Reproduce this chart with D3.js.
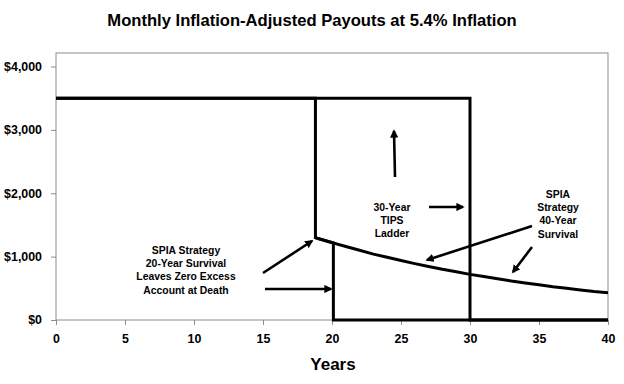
<!DOCTYPE html>
<html>
<head>
<meta charset="utf-8">
<script src="https://cdn.jsdelivr.net/npm/d3@7"></script>
<style>
  body { margin: 0; background: #fff; }
  svg text { font-family: "Liberation Sans", Arial, sans-serif; font-weight: bold; }
</style>
</head>
<body>
<svg id="chart"></svg>
<script>
// Data
const xTicks = [0, 5, 10, 15, 20, 25, 30, 35, 40];
const yTicks = [0, 1000, 2000, 3000, 4000];

// 30-year TIPS ladder
const tipsYears = [0, 30, 30, 40];
const tipsValues = [3500, 3500, 0, 0];

// SPIA strategy, 40-year survival
const spia40Years = [0, 18.8, 18.8, 19, 20, 21, 22, 23, 24, 25, 26, 27, 28, 29, 30,
  31, 32, 33, 34, 35, 36, 37, 38, 39, 40];
const spia40Values = [3500, 3500, 1300, 1285, 1220, 1160, 1100, 1040, 990, 940, 890, 845, 800, 760, 720,
  685, 650, 615, 585, 555, 525, 500, 475, 450, 430];

// SPIA strategy, 20-year survival
const spia20Years = [18.8, 19, 20.1, 20.1, 40];
const spia20Values = [1300, 1285, 1215, 0, 0];

// Annotations
const notes = [
  {lines: ["SPIA Strategy", "20-Year Survival", "Leaves Zero Excess", "Account at Death"], x: 186, y: 250},
  {lines: ["30-Year", "TIPS", "Ladder"], x: 392, y: 207},
  {lines: ["SPIA", "Strategy", "40-Year", "Survival"], x: 558, y: 194}
];
const arrows = [
  [263, 273, 312, 241],
  [265, 289, 331, 289],
  [395, 177, 394, 131],
  [429, 207, 463, 207],
  [532, 226, 427, 260],
  [532, 247, 513, 272]
];

const W = 624, H = 384;
const margin = {top: 53, right: 16, bottom: 64, left: 56},
    width = W - margin.left - margin.right,
    height = H - margin.top - margin.bottom;

const root = d3.select("#chart").attr("width", W).attr("height", H);

root.append("text")
    .attr("x", 312).attr("y", 26)
    .attr("text-anchor", "middle")
    .attr("font-size", 16.6)
    .text("Monthly Inflation-Adjusted Payouts at 5.4% Inflation");

const svg = root.append("g")
    .attr("transform", `translate(${margin.left},${margin.top})`);

const x = d3.scaleLinear().domain([0, 40]).range([0, width]);
// the frame reaches a little above the $4,000 line
const y = d3.scaleLinear().domain([0, 4000]).range([height, 13.5]);

// plot frame
svg.append("rect")
    .attr("width", width).attr("height", height)
    .attr("fill", "none").attr("stroke", "#8c8c8c").attr("stroke-width", 1);

const xAxis = svg.append("g")
    .attr("transform", `translate(0,${height})`)
    .call(d3.axisBottom(x).tickValues(xTicks).tickSize(5).tickPadding(9));
const yAxis = svg.append("g")
    .call(d3.axisLeft(y).tickValues(yTicks).tickSize(5).tickPadding(9)
        .tickFormat(d => "$" + d3.format(",")(d)));

[xAxis, yAxis].forEach(a => {
  a.select(".domain").remove();
  a.selectAll(".tick line").attr("stroke", "#8c8c8c");
  a.selectAll("text").attr("font-size", 12.4).attr("fill", "#000")
      .attr("font-family", "'Liberation Sans', Arial, sans-serif");
});

root.append("text")
    .attr("x", 333).attr("y", 370)
    .attr("text-anchor", "middle")
    .attr("font-size", 17)
    .text("Years");

const line = d3.line().x(d => x(d[0])).y(d => y(d[1]));
[[tipsYears, tipsValues], [spia40Years, spia40Values], [spia20Years, spia20Values]]
  .forEach(([xs, vs]) => {
    svg.append("path")
        .datum(xs.map((v, i) => [v, vs[i]]))
        .attr("d", line)
        .attr("fill", "none")
        .attr("stroke", "#000")
        .attr("stroke-width", 3)
        .attr("stroke-linejoin", "miter");
  });

// arrows
root.append("defs").append("marker")
    .attr("id", "head")
    .attr("viewBox", "0 0 10 10")
    .attr("refX", 8).attr("refY", 5)
    .attr("markerWidth", 3.2).attr("markerHeight", 3.2)
    .attr("markerUnits", "strokeWidth")
    .attr("orient", "auto")
  .append("path")
    .attr("d", "M0,0L10,5L0,10Z")
    .attr("fill", "#000");

root.selectAll(".arrow")
  .data(arrows)
  .join("line")
    .attr("class", "arrow")
    .attr("x1", d => d[0]).attr("y1", d => d[1])
    .attr("x2", d => d[2]).attr("y2", d => d[3])
    .attr("stroke", "#000")
    .attr("stroke-width", 2.6)
    .attr("marker-end", "url(#head)");

notes.forEach(n => {
  const t = root.append("text")
      .attr("text-anchor", "middle")
      .attr("font-size", 10.4);
  n.lines.forEach((s, i) => {
    t.append("tspan")
        .attr("x", n.x)
        .attr("y", n.y + 4 + i * 13.2)
        .text(s);
  });
});
</script>
</body>
</html>
